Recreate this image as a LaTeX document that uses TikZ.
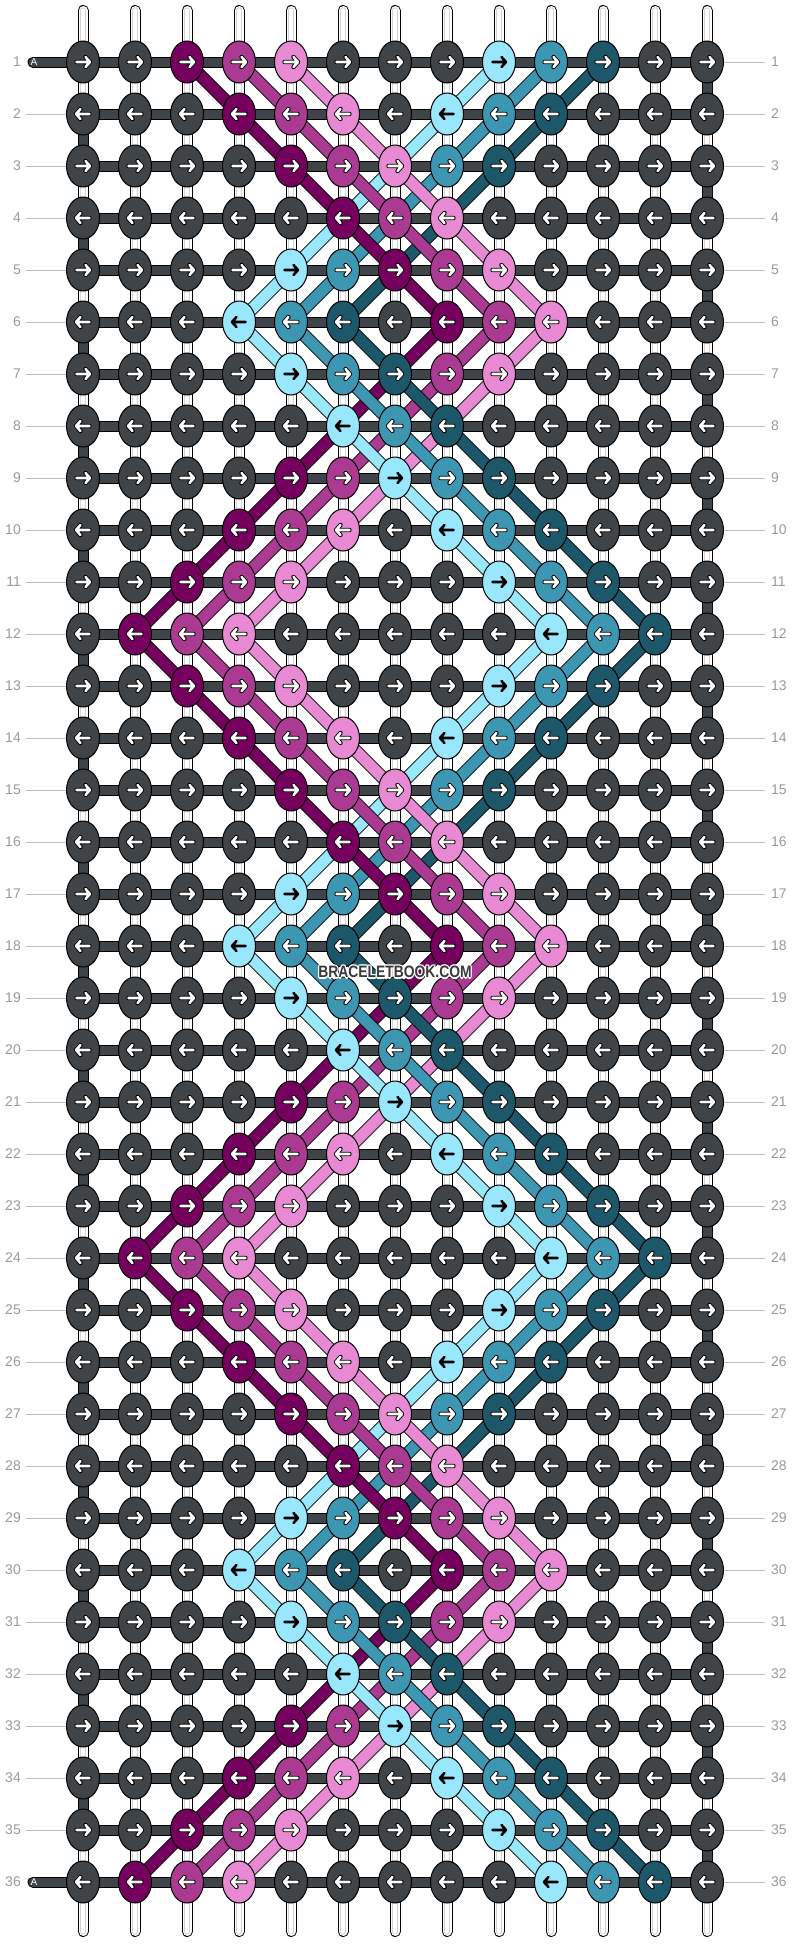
\documentclass[tikz,border=0pt]{standalone}
\usepackage{fontspec}
\setmainfont{Liberation Sans}
\usetikzlibrary{shapes.geometric, positioning, calc}
\definecolor{bgdark}{HTML}{3F4448}
\definecolor{p0}{HTML}{76005E}
\definecolor{p1}{HTML}{AA3A92}
\definecolor{p2}{HTML}{E78AD3}
\definecolor{b0}{HTML}{99E7FD}
\definecolor{b1}{HTML}{3D97B3}
\definecolor{b2}{HTML}{1D576A}
\definecolor{rulegray}{HTML}{BDBDBD}
\definecolor{numgray}{HTML}{999999}
\definecolor{stampgray}{HTML}{3A3A3A}
\pgfdeclarelayer{strings}
\pgfdeclarelayer{threads}
\pgfsetlayers{strings,threads,main}
\tikzset{knot/.style={ellipse,draw=black,line width=1pt,minimum width=33pt,minimum height=42pt,inner sep=0pt},
         stringout/.style={draw=black,line width=11pt,line cap=round},
         stringin/.style={draw=white,line width=9pt,line cap=round},
         stringmid/.style={draw=gray!35,line width=6.5pt,line cap=round},
         stringcore/.style={draw=white,line width=4.5pt,line cap=round},
         barout/.style={draw=black,line width=11pt,line cap=round},
         barin/.style={draw=bgdark,line width=9pt,line cap=round},
         threadout/.style={draw=black,line width=13pt},
         threadin/.style={line width=11pt},
         arrowedge/.style={line width=4.4pt,line cap=round,line join=round},
         arrowcore/.style={line width=2.6pt,line cap=round,line join=round},
         rownum/.style={text=numgray,font=\fontsize{14}{14}\selectfont,inner sep=0pt},
         ruleline/.style={draw=rulegray,line width=1pt}}
\def\Lp{{3,4,5,6,7,8,7,6,5,4,3,2}}
\def\Lb{{9,8,7,6,5,4,5,6,7,8,9,10}}
\newcommand\threadband[5]{% colour prefix, row, next row, first col, first col next row
  \foreach \kk in {0,1,2}{%
    \pgfmathtruncatemacro\ca{#4+\kk}%
    \pgfmathtruncatemacro\cb{#5+\kk}%
    \edef\tc{#1\kk}%
    \draw[threadout] (k-#2-\ca.center) -- (k-#3-\cb.center);
    \draw[threadin, draw=\tc] (k-#2-\ca.center) -- (k-#3-\cb.center);
  }}
% white halo behind a word
\newcommand\haloshift[3]{\rlap{\hspace{#1}\raisebox{#2}{\color{white}#3}}}
\newcommand\haloword[1]{\leavevmode
  \haloshift{-1.4pt}{0pt}{#1}\haloshift{1.4pt}{0pt}{#1}%
  \haloshift{0pt}{1.4pt}{#1}\haloshift{0pt}{-1.4pt}{#1}%
  \haloshift{-1pt}{1pt}{#1}\haloshift{1pt}{1pt}{#1}%
  \haloshift{-1pt}{-1pt}{#1}\haloshift{1pt}{-1pt}{#1}#1}

\begin{document}
\begin{tikzpicture}[x=1pt,y=-1pt]
  \useasboundingbox (0,0) rectangle (792,1944);

  % knots
  \foreach \row in {1,...,36}{
    \foreach \col in {1,...,13}{
      \pgfmathtruncatemacro\mm{mod(\row-1,12)}
      \pgfmathtruncatemacro\pa{\Lp[\mm]}
      \pgfmathtruncatemacro\pb{\Lb[\mm]}
      \pgfmathtruncatemacro\inp{and(\col>=\pa,\col<=\pa+2)}
      \pgfmathtruncatemacro\inb{and(\col>=\pb,\col<=\pb+2)}
      \pgfmathtruncatemacro\usep{and(\inp==1,or(\mm<6,\inb==0))}
      \def\kc{bgdark}\def\ac{white}\def\ae{black}
      \ifnum\inb=1 \pgfmathtruncatemacro\jj{\col-\pb}\edef\kc{b\jj}\ifnum\jj=0 \def\ac{black}\def\ae{b0}\fi\fi
      \ifnum\usep=1 \pgfmathtruncatemacro\jj{\col-\pa}\edef\kc{p\jj}\def\ac{white}\def\ae{black}\fi
      \pgfmathtruncatemacro\dir{ifthenelse(mod(\row,2)==1,1,-1)}
      \node[knot, fill=\kc] (k-\row-\col) at ({83+52*(\col-1)},{62+52*(\row-1)}) {};
      \begin{scope}[shift={(k-\row-\col.center)}, xscale=\dir]
        \draw[arrowedge, draw=\ae] (-6.5,0) -- (7,0) (2.5,-5) -- (7,0) -- (2.5,5);
        \draw[arrowcore, draw=\ac] (-6.5,0) -- (7,0) (2.5,-5) -- (7,0) -- (2.5,5);
      \end{scope}
    }
  }

  % vertical strings and the background string
  \begin{pgfonlayer}{strings}
    \foreach \col in {1,...,13}{
      \coordinate (top-\col) at ({83+52*(\col-1)},10.5);
      \coordinate (bot-\col) at ({83+52*(\col-1)},1931.5);
      \draw[stringout] (top-\col) -- (bot-\col);
      \draw[stringin] (top-\col) -- (bot-\col);
      \draw[stringmid] (top-\col) -- (bot-\col);
      \draw[stringcore] (top-\col) -- (bot-\col);
    }
    \coordinate (startA) at (33,62);
    \coordinate (endA) at (33,1882);
    \draw[barout] (startA) -- (k-1-1.center);
    \draw[barin] (startA) -- (k-1-1.center);
    \draw[barout] (endA) -- (k-36-1.center);
    \draw[barin] (endA) -- (k-36-1.center);
    \foreach \row in {1,...,36}{
      \draw[barout] (k-\row-1.center) -- (k-\row-13.center);
      \draw[barin] (k-\row-1.center) -- (k-\row-13.center);
    }
    \foreach \row in {1,...,35}{
      \pgfmathtruncatemacro\nx{\row+1}
      \pgfmathtruncatemacro\ec{ifthenelse(mod(\row,2)==1,13,1)}
      \draw[barout] (k-\row-\ec.center) -- (k-\nx-\ec.center);
      \draw[barin] (k-\row-\ec.center) -- (k-\nx-\ec.center);
    }
  \end{pgfonlayer}

  % diagonal threads
  \begin{pgfonlayer}{threads}
    \foreach \row in {1,...,35}{
      \pgfmathtruncatemacro\mm{mod(\row-1,12)}
      \pgfmathtruncatemacro\nn{mod(\row,12)}
      \pgfmathtruncatemacro\nx{\row+1}
      \pgfmathtruncatemacro\pa{\Lp[\mm]}
      \pgfmathtruncatemacro\pz{\Lp[\nn]}
      \pgfmathtruncatemacro\pb{\Lb[\mm]}
      \pgfmathtruncatemacro\bz{\Lb[\nn]}
      \ifnum\mm<6
        \threadband{b}{\row}{\nx}{\pb}{\bz}
        \threadband{p}{\row}{\nx}{\pa}{\pz}
      \else
        \threadband{p}{\row}{\nx}{\pa}{\pz}
        \threadband{b}{\row}{\nx}{\pb}{\bz}
      \fi
    }
  \end{pgfonlayer}

  \node[anchor=west, text=white, inner sep=0pt, font=\fontsize{10}{10}\selectfont] (labA1) at (30.5,62) {A};
  \node[anchor=west, text=white, inner sep=0pt, font=\fontsize{10}{10}\selectfont] (labA36) at (30.5,1882) {A};

  % row numbers
  \foreach \row in {1,...,36}{
    \node[rownum, anchor=east] (nl-\row) at (21,{62+52*(\row-1)}) {\row};
    \node[rownum, anchor=west] (nr-\row) at (771,{62+52*(\row-1)}) {\row};
    \draw[ruleline, shorten >=6pt] (k-\row-13.east) -- (nr-\row.west);
  }
  \foreach \row in {2,...,35}{
    \draw[ruleline, shorten <=5pt] (nl-\row.east) -- (k-\row-1.west);
  }

  \node[text=stampgray, font=\bfseries\fontsize{16.5}{16.5}\selectfont, inner sep=0pt] (stamp) at (395,972) {\scalebox{0.84}[1]{\haloword{BRACELETBOOK.COM}}};
\end{tikzpicture}
\end{document}
